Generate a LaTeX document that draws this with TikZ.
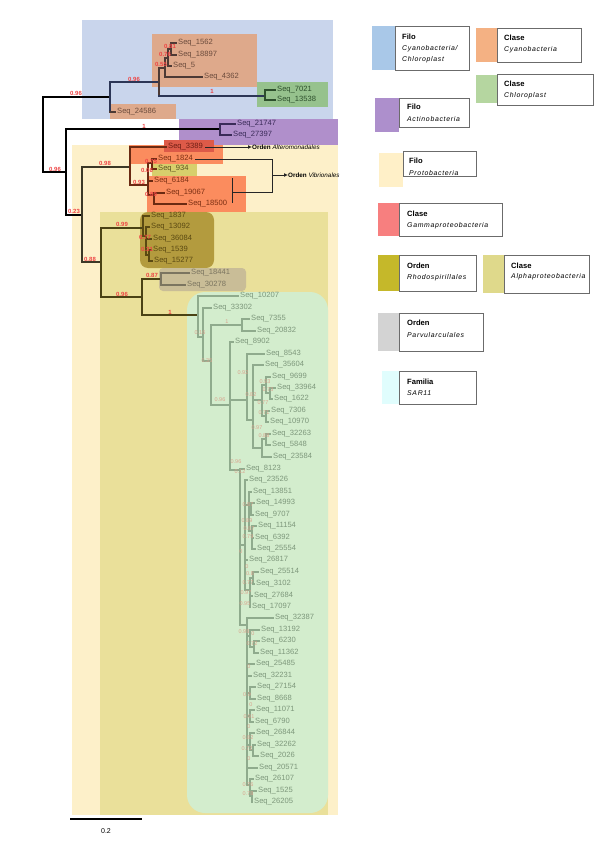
\documentclass[tikz,border=0pt]{standalone}
\usepackage{fontspec}
\setmainfont{Liberation Sans}
\newfontfamily\legfont[LetterSpace=10]{Liberation Sans}
\usetikzlibrary{arrows.meta}
\definecolor{cBlue}{HTML}{C9D5EC}
\definecolor{cProt}{HTML}{FDF0C9}
\definecolor{cAlph}{HTML}{EAE09A}
\definecolor{cPurp}{HTML}{B08FCB}
\definecolor{cOrg}{HTML}{DEA98B}
\definecolor{cGrn}{HTML}{96C28D}
\definecolor{cGamA}{HTML}{FB8C5E}
\definecolor{cGamD}{HTML}{DD5A48}
\definecolor{cYel}{HTML}{D7CF6C}
\definecolor{cRho}{HTML}{B39B3E}
\definecolor{cPar}{HTML}{C9BD97}
\definecolor{cSar}{HTML}{D3EDCD}
\definecolor{lNavy}{HTML}{2C3656}
\definecolor{lOrg}{HTML}{4D3A35}
\definecolor{tOrg}{HTML}{6B4B3C}
\definecolor{lGrn}{HTML}{2D4F2C}
\definecolor{lPur}{HTML}{3A2B58}
\definecolor{lPro}{HTML}{3C3826}
\definecolor{lGam}{HTML}{6B2A12}
\definecolor{tGam}{HTML}{7A2E12}
\definecolor{tGamD}{HTML}{6E1E14}
\definecolor{tYel}{HTML}{5C5222}
\definecolor{lAlp}{HTML}{4A4214}
\definecolor{lRho}{HTML}{5A4912}
\definecolor{lPar}{HTML}{7B7560}
\definecolor{lSar}{HTML}{8FAB8D}
\definecolor{tSar}{HTML}{7D977B}
\definecolor{bsRed}{HTML}{EE4444}
\definecolor{fbCol}{HTML}{D9A48E}
\definecolor{lg1}{HTML}{A9C8E8}
\definecolor{lg2}{HTML}{F4B183}
\definecolor{lg3}{HTML}{B5D6A0}
\definecolor{lg4}{HTML}{AD8FCC}
\definecolor{lg5}{HTML}{FFF0C8}
\definecolor{lg6}{HTML}{F77F7F}
\definecolor{lg7}{HTML}{C5B82A}
\definecolor{lg8}{HTML}{DFD98B}
\definecolor{lg9}{HTML}{D3D3D3}
\definecolor{lg10}{HTML}{E0FDFD}
\newcommand\tlf[5]{\node[lab,#1] (s#2) at ({#5-2},#4) {Seq\_#2};\draw[br,#1] (#3,#4) -- (s#2.west);}
\newcommand\tvl[4]{\draw[br,#1] (#2,#3) -- (#2,#4);}
\newcommand\thl[4]{\draw[br,#1] (#2,#4) -- (#3,#4);}
\begin{document}
\begin{tikzpicture}[x=1pt,y=-1pt,
  lab/.style={anchor=west, inner sep=2pt, font=\fontsize{7.6}{8}\selectfont},
  br/.style={line width=1.1pt, line cap=rect},
  gK/.style={color=black, text=black},
  gBl/.style={color=lNavy, text=lNavy},
  gOr/.style={color=lOrg, text=tOrg},
  gGr/.style={color=lGrn, text=lGrn},
  gPu/.style={color=lPur, text=lPur},
  gPr/.style={color=lPro, text=lPro},
  gGa/.style={color=lGam, text=tGam},
  gGaD/.style={color=lGam, text=tGamD},
  gYe/.style={color=lGam, text=tYel},
  gAl/.style={color=lAlp, text=lAlp},
  gRh/.style={color=lRho, text=lRho},
  gPa/.style={color=lPar, text=lPar},
  gS/.style={color=lSar, text=tSar},
  bs/.style={inner sep=0, text=bsRed, font=\bfseries\fontsize{6}{6}\selectfont},
  fb/.style={inner sep=0, text=fbCol, font=\fontsize{5.5}{6}\selectfont},
  legbox/.style={fill=white, draw=black!58, line width=0.9pt},
  legt/.style={anchor=west, inner sep=0, font=\bfseries\fontsize{7.6}{8}\selectfont},
  legs/.style={anchor=west, inner sep=0, font=\legfont\itshape\fontsize{6.9}{8}\selectfont},
  ann/.style={anchor=west, inner sep=0, font=\fontsize{6.3}{7}\selectfont},
  annline/.style={line width=0.8pt, color=black!85}
]
\useasboundingbox (0,0) rectangle (599,848);
\fill[white] (0,0) rectangle (599,848);
% ---------- coloured regions ----------
\fill[cBlue] (82,20) rectangle (333,119);
\fill[cProt] (72,145) rectangle (338,815);
\fill[cAlph] (100,212) rectangle (328,815);
\fill[cPurp] (179,119) rectangle (338,145);
\fill[cOrg] (152,34) rectangle (257,87);
\fill[cOrg] (110,104) rectangle (176,119);
\fill[cGrn] (257,82) rectangle (328,107);
\fill[cGamA] (129,145) rectangle (223,164);
\fill[cGamD] (164,140) rectangle (214,152);
\fill[cYel] (152,164) rectangle (197,176);
\fill[cGamA] (147,176) rectangle (246,212);
\fill[cRho, rounded corners=8pt] (140,212) rectangle (214,268);
\fill[cPar, rounded corners=4pt] (159,268) rectangle (246,291);
\fill[cSar, rounded corners=18pt] (187,292) rectangle (328,813);
% ---------- upper tree ----------
\tvl{gK}{43}{97}{172}
\thl{gK}{43}{110}{97}
\tvl{gBl}{110}{82}{112}
\thl{gBl}{110}{159}{82}
\tvl{gOr}{159}{68}{96}
\thl{gOr}{159}{165}{68}
\tvl{gOr}{165}{58}{77}
\thl{gOr}{165}{168}{58}
\tvl{gOr}{168}{49}{66}
\thl{gOr}{168}{171}{49}
\tvl{gOr}{171}{43}{55}
\thl{gBl}{159}{265}{96}
\tvl{gGr}{265}{90}{100}
\tlf{gOr}{1562}{171}{43}{178}
\tlf{gOr}{18897}{171}{55}{178}
\tlf{gOr}{5}{168}{66}{173}
\tlf{gOr}{4362}{165}{77}{204}
\tlf{gOr}{24586}{110}{112}{117}
\tlf{gGr}{7021}{265}{90}{277}
\tlf{gGr}{13538}{265}{100}{277}
\thl{gK}{43}{66}{172}
\tvl{gK}{66}{129}{215}
\thl{gK}{66}{220}{129}
\tvl{gPu}{220}{124}{135}
\tlf{gPu}{21747}{220}{124}{237}
\tlf{gPu}{27397}{220}{135}{233}
\thl{gK}{66}{82}{215}
\tvl{gPr}{82}{167}{262}
% gamma
\thl{gPr}{82}{130}{167}
\tvl{gGa}{130}{147}{185}
\thl{gGa}{130}{148}{185}
\tvl{gGa}{148}{163}{195}
\thl{gGa}{148}{152}{163}
\tvl{gGa}{152}{159}{169}
\thl{gGa}{148}{154}{195}
\tvl{gGa}{154}{193}{204}
\tlf{gGaD}{3389}{130}{147}{168}
\tlf{gGa}{1824}{152}{159}{158}
\tlf{gYe}{934}{152}{169}{158}
\tlf{gGa}{6184}{148}{181}{154}
\tlf{gGa}{19067}{154}{193}{166}
\tlf{gGa}{18500}{154}{204}{188}
% alpha
\thl{gPr}{82}{101}{262}
\tvl{gAl}{101}{228}{297}
\thl{gAl}{101}{143}{228}
\tvl{gRh}{143}{216}{236}
\thl{gRh}{143}{146}{236}
\tvl{gRh}{146}{227}{255}
\thl{gRh}{146}{149}{255}
\tvl{gRh}{149}{250}{261}
\tlf{gRh}{1837}{143}{216}{151}
\tlf{gRh}{13092}{146}{227}{151}
\tlf{gRh}{36084}{146}{239}{153}
\tlf{gRh}{1539}{149}{250}{153}
\tlf{gRh}{15277}{149}{261}{154}
\thl{gAl}{101}{142}{297}
\tvl{gAl}{142}{279}{315}
\thl{gAl}{142}{161}{279}
\tvl{gPa}{161}{273}{285}
\tlf{gPa}{18441}{161}{273}{191}
\tlf{gPa}{30278}{161}{285}{187}
\thl{gAl}{142}{198}{315}
% ---------- SAR11 ----------
\tvl{gS}{198}{296}{337}
\tlf{gS}{10207}{198}{296}{240}
\thl{gS}{198}{203}{337}
\tvl{gS}{203}{308}{361}
\tlf{gS}{33302}{203}{308}{213}
\thl{gS}{203}{211}{361}
\tvl{gS}{211}{325}{405}
\thl{gS}{211}{242}{325}
\tvl{gS}{242}{319}{331}
\tlf{gS}{7355}{242}{319}{251}
\tlf{gS}{20832}{242}{331}{257}
\thl{gS}{211}{230}{405}
\tvl{gS}{230}{342}{470}
\tlf{gS}{8902}{230}{342}{235}
\thl{gS}{230}{247}{400}
\tvl{gS}{247}{354}{420}
\tlf{gS}{8543}{247}{354}{266}
\thl{gS}{247}{253}{420}
\tvl{gS}{253}{365}{448}
\tlf{gS}{35604}{253}{365}{265}
\thl{gS}{253}{262}{400}
\tvl{gS}{262}{385}{416}
\thl{gS}{262}{266}{385}
\tvl{gS}{266}{377}{393}
\tlf{gS}{9699}{266}{377}{272}
\thl{gS}{266}{270}{393}
\tvl{gS}{270}{388}{399}
\tlf{gS}{33964}{270}{388}{277}
\tlf{gS}{1622}{270}{399}{274}
\thl{gS}{262}{266}{416}
\tvl{gS}{266}{411}{422}
\tlf{gS}{7306}{266}{411}{271}
\tlf{gS}{10970}{266}{422}{270}
\thl{gS}{253}{262}{448}
\tvl{gS}{262}{439}{457}
\thl{gS}{262}{266}{439}
\tvl{gS}{266}{434}{445}
\tlf{gS}{32263}{266}{434}{272}
\tlf{gS}{5848}{266}{445}{272}
\tlf{gS}{23584}{262}{457}{273}
\thl{gS}{230}{240}{470}
\tvl{gS}{240}{469}{625}
\tlf{gS}{8123}{240}{469}{246}
\thl{gS}{240}{245}{545}
\tvl{gS}{245}{480}{590}
\tlf{gS}{23526}{245}{480}{249}
\thl{gS}{245}{249}{505}
\tvl{gS}{249}{492}{531}
\tlf{gS}{13851}{249}{492}{253}
\thl{gS}{249}{251}{509}
\tvl{gS}{251}{503}{515}
\tlf{gS}{14993}{251}{503}{256}
\tlf{gS}{9707}{251}{515}{255}
\thl{gS}{249}{252}{531}
\tvl{gS}{252}{526}{549}
\tlf{gS}{11154}{252}{526}{258}
\tlf{gS}{6392}{252}{538}{255}
\tlf{gS}{25554}{252}{549}{257}
\tlf{gS}{26817}{245}{560}{249}
\thl{gS}{245}{250}{590}
\tvl{gS}{250}{578}{607}
\thl{gS}{250}{253}{578}
\tvl{gS}{253}{572}{584}
\tlf{gS}{25514}{253}{572}{260}
\tlf{gS}{3102}{253}{584}{256}
\tlf{gS}{27684}{250}{596}{254}
\tlf{gS}{17097}{250}{607}{252}
\thl{gS}{240}{247}{625}
\tvl{gS}{247}{618}{785}
\tlf{gS}{32387}{247}{618}{275}
\thl{gS}{247}{250}{636}
\tvl{gS}{250}{630}{647}
\tlf{gS}{13192}{250}{630}{261}
\thl{gS}{250}{254}{647}
\tvl{gS}{254}{641}{653}
\tlf{gS}{6230}{254}{641}{261}
\tlf{gS}{11362}{254}{653}{260}
\tlf{gS}{25485}{247}{664}{256}
\tlf{gS}{32231}{247}{676}{253}
\thl{gS}{247}{250}{693}
\tvl{gS}{250}{687}{699}
\tlf{gS}{27154}{250}{687}{257}
\tlf{gS}{8668}{250}{699}{257}
\thl{gS}{247}{250}{716}
\tvl{gS}{250}{710}{722}
\tlf{gS}{11071}{250}{710}{256}
\tlf{gS}{6790}{250}{722}{255}
\thl{gS}{247}{250}{745}
\tvl{gS}{250}{733}{750}
\tlf{gS}{26844}{250}{733}{256}
\thl{gS}{250}{253}{750}
\tvl{gS}{253}{745}{756}
\tlf{gS}{32262}{253}{745}{257}
\tlf{gS}{2026}{253}{756}{260}
\tlf{gS}{20571}{247}{768}{259}
\thl{gS}{247}{250}{785}
\tvl{gS}{250}{779}{796}
\tlf{gS}{26107}{250}{779}{255}
\thl{gS}{250}{252}{796}
\tvl{gS}{252}{791}{802}
\tlf{gS}{1525}{252}{791}{258}
\tlf{gS}{26205}{252}{802}{254}
% ---------- support values ----------
\foreach \x/\y/\t [count=\i] in {76/93/0.96, 134/79/0.96, 161/64/0.55, 165/54/0.76, 170/46/0.81, 212/91/1, 144/126/1, 55/169/0.96, 105/163/0.98, 151/161/0.75, 147/170/0.06, 139/182/0.93, 151/194/0.89, 74/211/0.23, 122/224/0.99, 145/237/0.77, 147/249/0.31, 90/259/0.88, 152/275/0.87, 122/294/0.96, 170/312/1}
  {\node[bs] (b\i) at (\x,\y) {\t};}
\foreach \x/\y/\t [count=\i] in {200/333/0.16, 207/361/0.35, 227/322/1, 220/400/0.96, 243/373/0.92, 251/395/0.82, 265/382/0.93, 268/390/0.73, 263/403/0.77, 264/413/0.71, 257/428/0.97, 264/436/0.88, 236/462/0.96, 240/472/0.12, 248/505/0.87, 247/521/0.89, 249/529/0.87, 248/537/0.79, 241/552/0, 247/567/0, 250/574/0.8, 248/583/0.77, 246/593/0.97, 245/604/0.95, 244/632/0.98, 253/634/0, 252/644/0.72, 249/667/0, 247/695/0.9, 251/705/0, 249/717/0.91, 249/727/0, 248/738/0.82, 247/749/0.72, 249/759/0, 248/785/0.76, 248/794/0.78}
  {\node[fb] (f\i) at (\x,\y) {\t};}
% ---------- order annotations ----------
\node[ann] (alt) at (252,147) {\textbf{Orden} \textit{Alteromonadales}};
\draw[annline, -{Latex[length=4pt,width=4pt]}] (s3389.east) -- (alt.west);
\coordinate (v1) at (272,159);
\coordinate (v2) at (272,192);
\coordinate (v3) at (232,192);
\coordinate (v4) at (232,178);
\coordinate (v5) at (232,203);
\coordinate (v6) at (272,175);
\node[ann] (vib) at (288,175) {\textbf{Orden} \textit{Vibrionales}};
\draw[annline] (s1824.east) -- (v1) -- (v2) -- (v3);
\draw[annline] (v4) -- (v5);
\draw[annline, -{Latex[length=4pt,width=4pt]}] (v6) -- (vib.west);
% ---------- scale bar ----------
\coordinate (sb1) at (70,819);
\coordinate (sb2) at (142,819);
\draw[line width=1.2pt] (sb1) -- (sb2);
\node[inner sep=0, font=\fontsize{7}{8}\selectfont] (sbl) at (106,831) {0.2};
% ---------- legend ----------
\fill[lg1] (372,26) rectangle (395,70);
\draw[legbox] (395,26) rectangle (469,70);
\node[legt] (l1a) at (402,37) {Filo};
\node[legs] (l1b) at (402,49) {Cyanobacteria/};
\node[legs] (l1c) at (402,60) {Chloroplast};
\fill[lg2] (476,28) rectangle (497,62);
\draw[legbox] (497,28) rectangle (581,62);
\node[legt] (l2a) at (504,38) {Clase};
\node[legs] (l2b) at (504,50) {Cyanobacteria};
\fill[lg3] (476,75) rectangle (497,103);
\draw[legbox] (497,74) rectangle (593,105);
\node[legt] (l3a) at (504,84) {Clase};
\node[legs] (l3b) at (504,96) {Chloroplast};
\fill[lg4] (375,98) rectangle (399,132);
\draw[legbox] (399,98) rectangle (469,127);
\node[legt] (l4a) at (407,107) {Filo};
\node[legs] (l4b) at (407,119) {Actinobacteria};
\fill[lg5] (379,153) rectangle (403,187);
\draw[legbox] (403,151) rectangle (476,176);
\node[legt] (l5a) at (409,161) {Filo};
\node[legs] (l5b) at (409,173) {Protobacteria};
\fill[lg6] (378,203) rectangle (399,236);
\draw[legbox] (399,203) rectangle (502,236);
\node[legt] (l6a) at (407,214) {Clase};
\node[legs] (l6b) at (407,226) {Gammaproteobacteria};
\fill[lg7] (378,255) rectangle (399,291);
\draw[legbox] (399,255) rectangle (476,291);
\node[legt] (l7a) at (407,266) {Orden};
\node[legs] (l7b) at (407,278) {Rhodospirillales};
\fill[lg8] (483,255) rectangle (504,293);
\draw[legbox] (504,255) rectangle (589,293);
\node[legt] (l8a) at (511,266) {Clase};
\node[legs] (l8b) at (511,277) {Alphaproteobacteria};
\fill[lg9] (378,313) rectangle (399,351);
\draw[legbox] (399,313) rectangle (483,351);
\node[legt] (l9a) at (407,323) {Orden};
\node[legs] (l9b) at (407,335) {Parvularculales};
\fill[lg10] (382,371) rectangle (399,404);
\draw[legbox] (399,371) rectangle (476,404);
\node[legt] (l10a) at (407,382) {Familia};
\node[legs] (l10b) at (407,393) {SAR11};
\end{tikzpicture}
\end{document}
